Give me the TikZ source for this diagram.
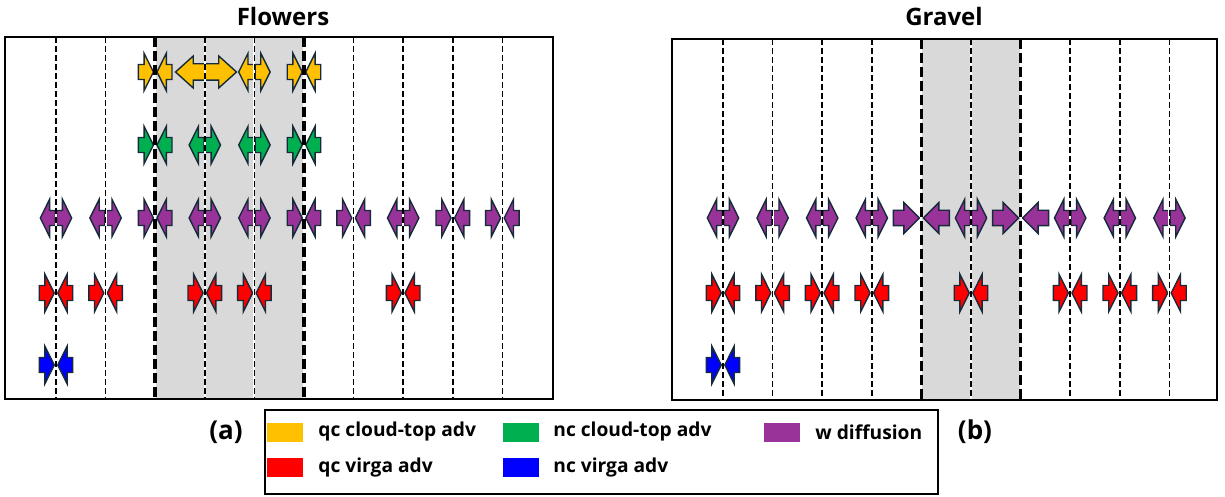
\documentclass[tikz,border=0pt]{standalone}
\usepackage{fontspec}
\setmainfont{Open Sans}
\usetikzlibrary{shapes.arrows}
\definecolor{qcyellow}{RGB}{255,192,0}
\definecolor{ncgreen}{RGB}{0,176,80}
\definecolor{wpurple}{RGB}{153,51,153}
\definecolor{qcred}{RGB}{255,0,0}
\definecolor{ncblue}{RGB}{0,0,255}
\definecolor{arrowedge}{RGB}{22,42,58}
\definecolor{cellgray}{RGB}{217,217,217}
\tikzstyle{flux} = [single arrow, draw=arrowedge, line width=0.7pt, inner xsep=0pt, inner ysep=3.4pt, single arrow head extend=5.6pt, single arrow tip angle=127, minimum height=7.5pt]
\tikzstyle{bigflux} = [flux, single arrow head extend=3.9pt, single arrow tip angle=90, minimum height=13pt, inner ysep=3.5pt]
\tikzstyle{bigdouble} = [double arrow, draw=arrowedge, line width=0.7pt, inner xsep=0pt, inner ysep=3.75pt, double arrow head extend=3.9pt, double arrow tip angle=84, minimum height=30.5pt]
\tikzstyle{cellline} = [line width=0.8pt, dash pattern=on 3pt off 1.5pt]
\tikzstyle{edgeline} = [line width=1.8pt, dash pattern=on 5pt off 2pt]
\tikzstyle{swatch} = [minimum width=18pt, minimum height=9.5pt, inner sep=0pt]
\tikzstyle{legtext} = [anchor=west, inner sep=0pt, font=\bfseries\fontsize{9.6}{11}\selectfont]
\tikzstyle{title} = [font=\bfseries\fontsize{12}{14}\selectfont]
% converging pair: name, x, y, colour
\newcommand{\convpair}[4]{%
  \node (#1a) [flux, fill=#4, anchor=tip] at (#2-1,#3) {};
  \node (#1b) [flux, fill=#4, shape border rotate=180, anchor=tip] at (#2+1,#3) {};}
% diverging pair: name, x, y, colour
\newcommand{\divpair}[4]{%
  \node (#1a) [flux, fill=#4, shape border rotate=180, anchor=tail] at (#2,#3) {};
  \node (#1b) [flux, fill=#4, anchor=tail] at (#2,#3) {};}

\begin{document}
\begin{tikzpicture}[x=0.5pt, y=-0.5pt]
\useasboundingbox (0,0) rectangle (1225,497);

% Titles
\node (flowers) [title] at (283,17) {Flowers};
\node (gravel) [title] at (944,17) {Gravel};

% Shaded cells
\fill[cellgray] (155.2,37) rectangle (304,399);
\fill[cellgray] (921.4,39) rectangle (1020.6,400);

% (a) Flowers: qc cloud-top adv
\foreach \k in {2,5} {\pgfmathsetmacro\xx{56+49.6*\k} \convpair{fy\k}{\xx}{72}{qcyellow}}
\node (fybig) [bigdouble, fill=qcyellow] at (206,72) {};
\divpair{fy4}{254.4}{72}{qcyellow}

% (a) Flowers: nc cloud-top adv
\foreach \k in {2,5} {\pgfmathsetmacro\xx{56+49.6*\k} \convpair{fg\k}{\xx}{145}{ncgreen}}
\foreach \k in {3,4} {\pgfmathsetmacro\xx{56+49.6*\k} \divpair{fg\k}{\xx}{145}{ncgreen}}

% (a) Flowers: w diffusion
\foreach \k in {0,1,3,4,7} {\pgfmathsetmacro\xx{56+49.6*\k} \divpair{fw\k}{\xx}{218}{wpurple}}
\foreach \k in {2,5,6,8,9} {\pgfmathsetmacro\xx{56+49.6*\k} \convpair{fw\k}{\xx}{218}{wpurple}}

% (a) Flowers: virga adv
\foreach \k in {0,1,3,4,7} {\pgfmathsetmacro\xx{56+49.6*\k} \convpair{fr\k}{\xx}{293}{qcred}}
\convpair{fb0}{56}{365}{ncblue}

% (b) Gravel: w diffusion
\foreach \k in {0,1,2,3,5,7,8,9} {\pgfmathsetmacro\xx{723+49.6*\k} \divpair{gw\k}{\xx}{218}{wpurple}}
\foreach \k in {4,6} {\pgfmathsetmacro\xx{723+49.6*\k}
  \node (gw\k a) [bigflux, fill=wpurple, anchor=tip] at (\xx-1,218) {};
  \node (gw\k b) [bigflux, fill=wpurple, shape border rotate=180, anchor=tip] at (\xx+1,218) {};}

% (b) Gravel: virga adv
\foreach \k in {0,1,2,3,5,7,8,9} {\pgfmathsetmacro\xx{723+49.6*\k} \convpair{gr\k}{\xx}{293}{qcred}}
\convpair{gb0}{723}{365}{ncblue}

% Cell boundaries
\foreach \k/\sty in {0/cellline,1/cellline,2/edgeline,3/cellline,4/cellline,5/edgeline,6/cellline,7/cellline,8/cellline,9/cellline} {
  \pgfmathsetmacro\xx{56+49.6*\k}
  \draw[white, line width=1pt] (\xx,37) -- (\xx,399);
  \draw[\sty] (\xx,37) -- (\xx,399);}
\foreach \k/\sty in {0/cellline,1/cellline,2/cellline,3/cellline,4/edgeline,5/cellline,6/edgeline,7/cellline,8/cellline,9/cellline} {
  \pgfmathsetmacro\xx{723+49.6*\k}
  \draw[white, line width=1pt] (\xx,39) -- (\xx,400);
  \draw[\sty] (\xx,39) -- (\xx,400);}

% Panel frames
\draw[line width=1.2pt] (5,37) rectangle (553,399);
\draw[line width=1.2pt] (672,39) rectangle (1217,400);

% Panel labels
\node (labela) [title, font=\bfseries\fontsize{13}{15}\selectfont] at (226,432) {(a)};
\node (labelb) [title, font=\bfseries\fontsize{13}{15}\selectfont] at (975,432) {(b)};

% Legend
\draw[line width=1.3pt] (265,410) rectangle (938,494);
\node (sqc) [swatch, fill=qcyellow] at (285,432) {};
\node (snc) [swatch, fill=ncgreen] at (520.5,432) {};
\node (sw) [swatch, fill=wpurple] at (782,432) {};
\node (sqv) [swatch, fill=qcred] at (285,467.5) {};
\node (snv) [swatch, fill=ncblue] at (520.5,467.5) {};
\node (tqc) [legtext] at (318,432) {qc cloud-top adv};
\node (tnc) [legtext] at (553,432) {nc cloud-top adv};
\node (tw) [legtext] at (815,432) {w diffusion};
\node (tqv) [legtext] at (318,467.5) {qc virga adv};
\node (tnv) [legtext] at (553,467.5) {nc virga adv};
\end{tikzpicture}
\end{document}
